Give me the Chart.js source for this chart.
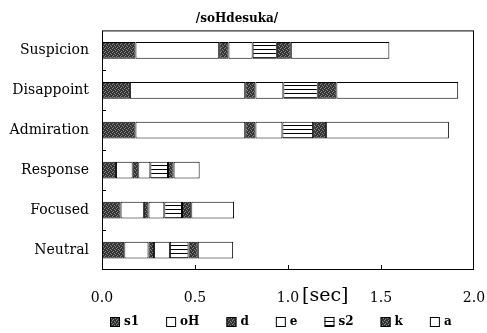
<!DOCTYPE html>
<html>
<head>
<meta charset="utf-8">
<script src="https://cdn.jsdelivr.net/npm/chart.js@4"></script>
<style>
  html, body { margin: 0; padding: 0; background: #fff; }
</style>
</head>
<body>
<canvas id="chart" width="487" height="333"></canvas>
<script>
// Segment durations in seconds, one value per category (top to bottom)
const categories = ['Suspicion', 'Disappoint', 'Admiration', 'Response', 'Focused', 'Neutral'];
const s1 = [0.18, 0.15, 0.18, 0.075, 0.10, 0.12];
const oH = [0.45, 0.62, 0.59, 0.09, 0.125, 0.13];
const d  = [0.05, 0.055, 0.055, 0.03, 0.025, 0.03];
const e  = [0.13, 0.15, 0.145, 0.065, 0.085, 0.085];
const s2 = [0.13, 0.185, 0.165, 0.095, 0.095, 0.10];
const k  = [0.075, 0.10, 0.07, 0.03, 0.05, 0.05];
const a  = [0.53, 0.655, 0.66, 0.14, 0.23, 0.19];
const xTicks = [0.0, 0.5, 1.0, 1.5, 2.0];

const serif = '"DejaVu Serif", serif';

// Fill patterns, like the old print-out
function makePattern(w, h, draw) {
  const c = document.createElement('canvas');
  c.width = w; c.height = h;
  const g = c.getContext('2d');
  draw(g);
  return g.createPattern(c, 'repeat');
}
const dotted = makePattern(4, 4, g => {
  g.fillStyle = '#333';
  g.fillRect(0, 0, 4, 4);
  g.fillStyle = '#8a8a8a';
  [[0, 0], [2, 1], [1, 3], [3, 2]].forEach(p => g.fillRect(p[0], p[1], 1, 1));
});
const striped = makePattern(4, 4, g => {
  g.fillStyle = '#fff';
  g.fillRect(0, 0, 4, 4);
  g.fillStyle = '#000';
  g.fillRect(0, 1, 4, 1);
});

function segment(label, values, fill) {
  return {
    label: label,
    data: values,
    backgroundColor: fill,
    borderColor: '#000',
    borderWidth: 1,
    borderSkipped: false,
    barPercentage: 0.42,
    categoryPercentage: 1.0
  };
}

// Frame, inward tick marks, the [sec] unit and the legend row
const framePlugin = {
  id: 'frame',
  afterDraw(chart) {
    const { ctx, chartArea: ca, scales } = chart;
    ctx.save();
    ctx.strokeStyle = '#000';
    ctx.lineWidth = 1;
    ctx.strokeRect(ca.left + 0.5, ca.top + 0.5, ca.width - 1, ca.height - 1);
    ctx.beginPath();
    for (let i = 0; i < categories.length - 1; i++) {
      const y = Math.round((scales.y.getPixelForValue(i) + scales.y.getPixelForValue(i + 1)) / 2) + 0.5;
      ctx.moveTo(ca.left, y);
      ctx.lineTo(ca.left + 4, y);
    }
    xTicks.slice(1, -1).forEach(v => {
      const x = Math.round(scales.x.getPixelForValue(v)) + 0.5;
      ctx.moveTo(x, ca.bottom);
      ctx.lineTo(x, ca.bottom - 5);
    });
    ctx.stroke();

    ctx.fillStyle = '#000';
    ctx.font = '19px ' + serif;
    ctx.textAlign = 'center';
    ctx.textBaseline = 'middle';
    ctx.fillText('[sec]', scales.x.getPixelForValue(1.2), ca.bottom + 26);

    // legend
    ctx.font = 'bold 12px ' + serif;
    ctx.textAlign = 'left';
    let x = ca.left + 8;
    const y = ca.bottom + 52;
    chart.data.datasets.forEach(ds => {
      ctx.fillStyle = ds.backgroundColor;
      ctx.fillRect(x, y - 5, 10, 10);
      ctx.strokeRect(x + 0.5, y - 4.5, 9, 9);
      ctx.fillStyle = '#000';
      ctx.fillText(ds.label, x + 14, y);
      x += 14 + ctx.measureText(ds.label).width + 27;
    });
    ctx.restore();
  }
};

new Chart(document.getElementById('chart'), {
  type: 'bar',
  data: {
    labels: categories,
    datasets: [
      segment('s1', s1, dotted),
      segment('oH', oH, '#fff'),
      segment('d', d, dotted),
      segment('e', e, '#fff'),
      segment('s2', s2, striped),
      segment('k', k, dotted),
      segment('a', a, '#fff')
    ]
  },
  options: {
    indexAxis: 'y',
    responsive: false,
    animation: false,
    devicePixelRatio: 1,
    layout: { padding: { left: 0, right: 13, top: 0, bottom: 0 } },
    plugins: {
      title: {
        display: true,
        text: '/soHdesuka/',
        color: '#000',
        font: { family: serif, size: 12, weight: 'bold' },
        padding: { top: 12, bottom: 4 }
      },
      legend: { display: false },
      tooltip: { enabled: false }
    },
    scales: {
      x: {
        stacked: true,
        min: 0,
        max: 2,
        afterFit: s => { s.height = 63; s.paddingLeft = 0; s.paddingRight = 0; },
        grid: { display: false },
        border: { display: false },
        ticks: {
          stepSize: 0.5,
          color: '#000',
          padding: 12,
          font: { family: serif, size: 14 },
          callback: v => v.toFixed(1)
        }
      },
      y: {
        stacked: true,
        afterFit: s => { s.width = 102; },
        grid: { display: false },
        border: { display: false },
        ticks: {
          color: '#000',
          padding: 5,
          font: { family: serif, size: 14 }
        }
      }
    }
  },
  plugins: [framePlugin]
});
</script>
</body>
</html>
